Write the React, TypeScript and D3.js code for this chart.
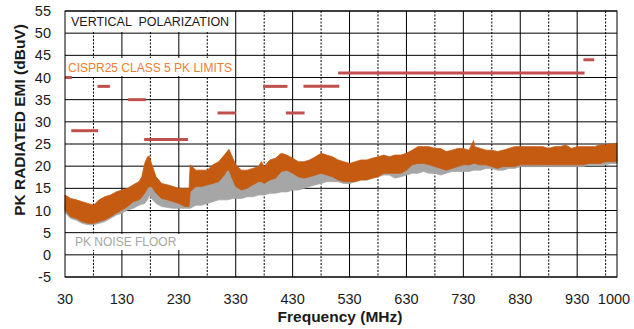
import React from "react";
import * as d3 from "d3";

const W = 634;
const H = 329;

const yTicks = [-5, 0, 5, 10, 15, 20, 25, 30, 35, 40, 45, 50, 55];
const xTickLabels = [30, 130, 230, 330, 430, 530, 630, 730, 830, 930, 1000];
const solidGrid = [130, 230, 330, 430, 530, 630, 730, 830, 930];
const dashedGrid = [80, 180, 280, 380, 480, 580, 680, 780, 880, 980];

// CISPR25 class 5 peak limits: [startMHz, endMHz, level]
const limitStart = [30, 41, 87, 141, 169, 298, 378, 418, 449, 510, 941];
const limitEnd = [42, 88, 109, 172, 246, 330, 421, 451, 512, 943, 960];
const limitLevel = [40, 28, 38, 35, 26, 32, 38, 32, 38, 41, 44];

const freqs = [30, 40, 50, 60, 70, 80, 90, 100, 110, 120, 130, 140, 150, 160, 165, 170, 175, 178, 182, 190, 200, 210, 220, 230, 240, 248, 250, 260, 270, 280, 290, 300, 310, 315, 318, 325, 330, 340, 350, 360, 370, 375, 380, 390, 400, 410, 420, 430, 440, 450, 460, 470, 480, 490, 500, 510, 520, 530, 540, 550, 560, 570, 580, 590, 600, 610, 620, 630, 640, 650, 660, 670, 680, 690, 700, 710, 720, 730, 740, 748, 750, 760, 770, 780, 790, 800, 810, 820, 830, 840, 850, 860, 870, 880, 890, 900, 910, 920, 930, 940, 950, 960, 970, 980, 990, 1000];

const emiHi = [13.5, 12.7, 12.4, 12, 11.6, 11.2, 12.4, 13.1, 13.5, 14.2, 14.6, 15, 15.8, 16.5, 17.6, 20.6, 22.1, 22.3, 20.6, 17.6, 16.1, 15.8, 15.4, 15, 15, 15, 20.3, 19.1, 19.1, 19.1, 20.3, 21, 22.5, 23.3, 23.8, 21.8, 20.3, 19.1, 19.1, 19.5, 19.9, 21, 19.9, 21.4, 21.8, 22.9, 22.5, 21.8, 21, 21, 21.4, 22.1, 22.9, 22.5, 22.1, 21.4, 21, 20.6, 21, 21.4, 21.4, 21.8, 22.1, 22.5, 22.1, 22.5, 22.5, 22.9, 23.6, 24.4, 24.4, 24.4, 24, 24, 23.3, 23.6, 24, 24, 23.6, 25.8, 24.4, 24, 23.6, 23.6, 23.3, 23.6, 24, 24.4, 24.4, 24.4, 24.4, 24.4, 24.4, 24, 24.4, 24.4, 24.8, 24, 24.4, 24.4, 24.4, 24.4, 24.8, 24.8, 25, 25.2];

const emiLo = [10.1, 8.6, 8.2, 7.5, 7.1, 7.1, 7.5, 7.9, 8.6, 9.4, 10.1, 10.9, 12, 12.4, 13, 13.9, 15, 15.4, 15.4, 13.9, 12.7, 12.4, 12, 11.6, 10.9, 10.9, 14.2, 15.4, 15.4, 15.8, 16.1, 16.5, 18, 19.1, 19.1, 16.9, 15.4, 14.6, 15, 15.8, 16.5, 16.5, 16.1, 16.9, 17.3, 18.8, 19.1, 18.4, 17.6, 17.3, 17.6, 18, 18.4, 18, 17.6, 16.9, 16.5, 16.5, 16.5, 16.9, 16.9, 17.3, 17.6, 18.4, 18.4, 18.4, 18.4, 19.1, 20.3, 20.6, 20.6, 20.3, 19.9, 19.5, 19.1, 19.5, 19.9, 20.3, 20.3, 20.6, 20.6, 20.3, 20.3, 19.9, 19.5, 19.9, 19.9, 19.9, 20.3, 20.3, 20.3, 20.3, 20.3, 20.3, 20.3, 20.3, 20.3, 20.3, 20.3, 20.3, 20.6, 20.6, 20.6, 21, 21, 21];

const floorHi = [11.5, 10, 9.6, 9, 8.6, 8.6, 9, 9.4, 10, 10.8, 11.5, 12.3, 13.4, 13.8, 14.4, 15.3, 16.4, 16.8, 16.8, 15.3, 14.1, 13.8, 13.4, 13, 12.3, 12.3, 15.6, 16.8, 16.8, 17.2, 17.5, 17.9, 19.4, 20.5, 20.5, 18.3, 16.8, 16, 16.4, 17.2, 17.9, 17.9, 17.5, 18.3, 18.7, 20.2, 20.5, 19.8, 19, 18.7, 19, 19.4, 19.8, 19.4, 19, 18.3, 17.9, 17.9, 17.9, 18.3, 18.3, 18.7, 19, 19.8, 19.8, 19.8, 19.8, 20.5, 21.7, 22, 22, 21.7, 21.3, 20.9, 20.5, 20.9, 21.3, 21.7, 21.7, 22, 22, 21.7, 21.7, 21.3, 20.9, 21.3, 21.3, 21.3, 21.7, 21.7, 21.7, 21.7, 21.7, 21.7, 21.7, 21.7, 21.7, 21.7, 21.7, 21.7, 22, 22, 22, 22.4, 22.4, 22.4];

const floorLo = [9.5, 8.2, 7.8, 7.1, 6.8, 6.8, 7.1, 7.5, 8.2, 9, 9.4, 10.1, 10.5, 11.2, 11.4, 11.6, 12.4, 13.5, 12.7, 11.6, 10.9, 10.7, 10.5, 10.5, 10.5, 10.5, 10.5, 11.2, 11.2, 11.6, 12, 12.4, 12.4, 12.4, 12.5, 12.7, 12.7, 12.7, 13.1, 13.1, 13.5, 13.5, 13.5, 13.9, 13.9, 14.2, 14.2, 14.6, 14.6, 15, 15.4, 15.8, 16.1, 16.5, 16.5, 16.5, 16.1, 16.1, 16.5, 16.9, 16.9, 17.3, 17.6, 18, 18, 17.3, 17.6, 18, 18.4, 18.4, 18.8, 18.4, 18.4, 18, 18.4, 18.8, 18.8, 18.8, 18.8, 19.1, 19.1, 19.1, 19.5, 19.5, 19.1, 19.1, 19.5, 19.5, 19.9, 19.9, 19.9, 19.9, 19.9, 19.9, 19.9, 19.9, 19.9, 19.9, 19.9, 19.9, 20.3, 20.3, 20.3, 20.3, 20.6, 20.6];

const PLOT = { left: 65, right: 617, top: 11, bottom: 277 };

export default function App() {
  const x = d3.scaleLinear().domain([30, 1000]).range([PLOT.left, PLOT.right]);
  const y = d3.scaleLinear().domain([-5, 55]).range([PLOT.bottom, PLOT.top]);

  const idx = freqs.map((_, i) => i);
  const floorArea = d3
    .area<number>()
    .x((i) => x(freqs[i]))
    .y0((i) => y(floorLo[i]))
    .y1((i) => y(floorHi[i]))
    .curve(d3.curveLinear);
  const emiArea = d3
    .area<number>()
    .x((i) => x(freqs[i]))
    .y0((i) => y(emiLo[i]))
    .y1((i) => y(emiHi[i]))
    .curve(d3.curveLinear);

  const font = "'Liberation Sans', Arial, sans-serif";

  return (
    <svg
      width={W}
      height={H}
      style={{ position: "absolute", left: 0, top: 0, background: "#fff" }}
      fontFamily={font}
    >
      <rect x={0} y={0} width={W} height={H} fill="#fff" />
      {/* horizontal grid */}
      {yTicks.map((v) => (
        <line key={"h" + v} x1={PLOT.left} x2={PLOT.right} y1={y(v)} y2={y(v)} stroke="#000" strokeWidth={1} />
      ))}
      {solidGrid.map((f) => (
        <line key={"s" + f} x1={x(f)} x2={x(f)} y1={PLOT.top} y2={PLOT.bottom} stroke="#000" strokeWidth={1} />
      ))}
      {dashedGrid.map((f) => (
        <line key={"d" + f} x1={x(f)} x2={x(f)} y1={PLOT.top} y2={PLOT.bottom} stroke="#000" strokeWidth={1} strokeDasharray="2,1.5" />
      ))}
      {/* data */}
      <path d={floorArea(idx) || ""} fill="#a6a6a6" stroke="#a6a6a6" strokeWidth={0.8} />
      <path d={emiArea(idx) || ""} fill="#c55a11" stroke="#c55a11" strokeWidth={0.8} />
      {/* limits */}
      {limitLevel.map((lv, i) => (
        <line
          key={"l" + i}
          x1={x(limitStart[i])}
          x2={x(limitEnd[i])}
          y1={y(lv)}
          y2={y(lv)}
          stroke="#c0504d"
          strokeWidth={3}
        />
      ))}
      {/* border */}
      <rect x={PLOT.left} y={PLOT.top} width={PLOT.right - PLOT.left} height={PLOT.bottom - PLOT.top} fill="none" stroke="#000" strokeWidth={1} />
      {/* annotation boxes */}
      <rect x={66} y={12} width={167} height={20} fill="#fff" />
      <text x={71} y={26} fontSize={12.5} fill="#1a1a1a" style={{ whiteSpace: "pre" }}>
        {"VERTICAL  POLARIZATION"}
      </text>
      <rect x={66} y={58} width={167} height={18} fill="#fff" />
      <text x={68} y={72} fontSize={12} fill="#ed7d31">
        CISPR25 CLASS 5 PK LIMITS
      </text>
      <rect x={70} y={234} width={110} height={16} fill="#fff" />
      <text x={75} y={246} fontSize={12} fill="#a6a6a6">
        PK NOISE FLOOR
      </text>
      {/* y tick labels */}
      {yTicks.map((v) => (
        <text key={"yt" + v} x={51} y={y(v) + 5} fontSize={14.5} textAnchor="end" fill="#1a1a1a">
          {v}
        </text>
      ))}
      {/* x tick labels */}
      {xTickLabels.map((f) => (
        <text key={"xt" + f} x={f === 1000 ? x(f) - 3 : x(f)} y={304} fontSize={14.5} textAnchor="middle" fill="#1a1a1a">
          {f}
        </text>
      ))}
      <text x={340} y={322} fontSize={15.5} fontWeight="bold" textAnchor="middle" fill="#1a1a1a">
        Frequency (MHz)
      </text>
      <text
        transform={`translate(25,120) rotate(-90)`}
        fontSize={15.5}
        fontWeight="bold"
        textAnchor="middle"
        fill="#1a1a1a"
      >
        PK RADIATED EMI (dBuV)
      </text>
    </svg>
  );
}
